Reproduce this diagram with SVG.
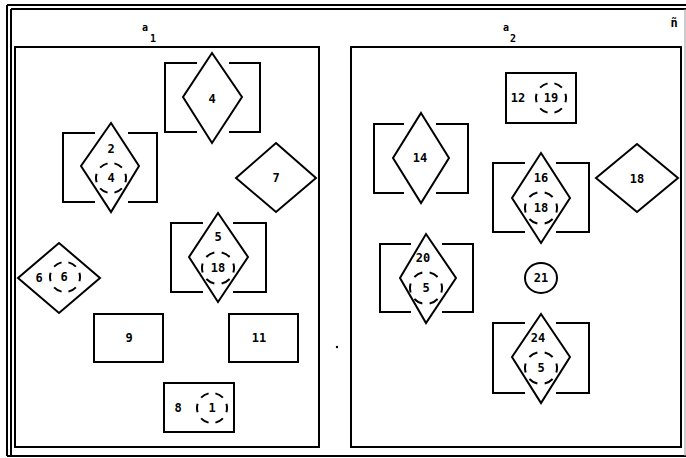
<svg xmlns="http://www.w3.org/2000/svg" width="686" height="458" viewBox="0 0 686 458">
<style>
.ln{fill:none;stroke:#000;stroke-width:2;stroke-linejoin:miter}
.dash{fill:none;stroke:#000;stroke-width:2;stroke-dasharray:5.5 4.5;stroke-dashoffset:2.75}
text{font-family:"DejaVu Sans Mono","Liberation Mono",monospace;font-weight:bold;font-size:12px;text-anchor:middle;fill:#000}
.sm{font-size:10px}
</style>
<rect width="686" height="458" fill="#fff"/>
<g id="frame">
<path class="ln" d="M7 5H686M11 9H686M7 5V456M11 9V456M7 456H686" stroke-width="1.6"/>
<path d="M685 9V456" stroke="#999" stroke-width="1" fill="none"/>
<rect class="ln" x="15" y="47" width="304" height="400"/>
<rect class="ln" x="351" y="47" width="330" height="400"/>
<text class="sm" x="145" y="31">a</text>
<text class="sm" x="153" y="42">1</text>
<text class="sm" x="506" y="31">a</text>
<text class="sm" x="513" y="42">2</text>
<text x="674" y="27">ñ</text>
<circle cx="337" cy="347" r="1.2" fill="#000"/>
</g>
<g id="connectors"></g>
<g id="n4">
<path class="ln" d="M197 63H165V132H197M229 63H260V132H229"/>
<polygon class="ln" points="212,53 242,97 212,143 183,97"/>
<text x="212" y="103">4</text>
</g>
<g id="n2">
<path class="ln" d="M95 133H63V202H95M128 133H157V202H128"/>
<polygon class="ln" points="111,123 139,166 111,212 81,166"/>
<text x="111" y="153">2</text>
<circle class="dash" cx="111" cy="178" r="15" pathLength="60"/>
<text x="111" y="182">4</text>
</g>
<g id="n7">
<polygon class="ln" points="276,143 316,178 276,212 236,178"/>
<text x="276" y="182">7</text>
</g>
<g id="n5">
<path class="ln" d="M203 223H171V292H203M233 223H266V292H233"/>
<polygon class="ln" points="218,213 248,257 218,302 189,257"/>
<text x="218" y="241">5</text>
<circle class="dash" cx="218" cy="268" r="16" pathLength="60"/>
<text x="218" y="272">18</text>
</g>
<g id="n6">
<polygon class="ln" points="59,243 100,278 59,313 18,278"/>
<text x="39" y="282">6</text>
<circle class="dash" cx="65" cy="277" r="15" pathLength="60"/>
<text x="64" y="281">6</text>
</g>
<g id="n9">
<rect class="ln" x="94" y="314" width="69" height="48"/>
<text x="129" y="342">9</text>
</g>
<g id="n11">
<rect class="ln" x="229" y="314" width="69" height="48"/>
<text x="259" y="342">11</text>
</g>
<g id="n8">
<rect class="ln" x="164" y="383" width="70" height="49"/>
<text x="178" y="412">8</text>
<circle class="dash" cx="212" cy="408" r="15" pathLength="60"/>
<text x="212" y="412">1</text>
</g>
<g id="n12">
<rect class="ln" x="506" y="73" width="70" height="50"/>
<text x="518" y="102">12</text>
<circle class="dash" cx="551" cy="98" r="15" pathLength="60"/>
<text x="551" y="102">19</text>
</g>
<g id="n14">
<path class="ln" d="M404 124H374V193H404M436 124H468V193H436"/>
<polygon class="ln" points="421,113 449,158 421,203 393,158"/>
<text x="420" y="162">14</text>
</g>
<g id="n16">
<path class="ln" d="M525 163H493V232H525M556 163H589V232H556"/>
<polygon class="ln" points="541,153 570,198 541,243 512,198"/>
<text x="541" y="182">16</text>
<circle class="dash" cx="541" cy="208" r="16" pathLength="60"/>
<text x="541" y="212">18</text>
</g>
<g id="n18">
<polygon class="ln" points="637,144 678,178 637,212 596,178"/>
<text x="637" y="183">18</text>
</g>
<g id="n20">
<path class="ln" d="M411 244H380V312H411M442 244H473V312H442"/>
<polygon class="ln" points="426,234 456,278 426,323 400,278"/>
<text x="423" y="262">20</text>
<circle class="dash" cx="426" cy="288" r="16" pathLength="60"/>
<text x="426" y="292">5</text>
</g>
<g id="n21">
<ellipse class="ln" cx="541" cy="278" rx="16" ry="15"/>
<text x="541" y="282">21</text>
</g>
<g id="n24">
<path class="ln" d="M525 323H493V393H525M556 323H589V393H556"/>
<polygon class="ln" points="541,314 570,357 541,403 512,357"/>
<text x="538" y="342">24</text>
<circle class="dash" cx="541" cy="368" r="16" pathLength="60"/>
<text x="541" y="372">5</text>
</g>
</svg>
